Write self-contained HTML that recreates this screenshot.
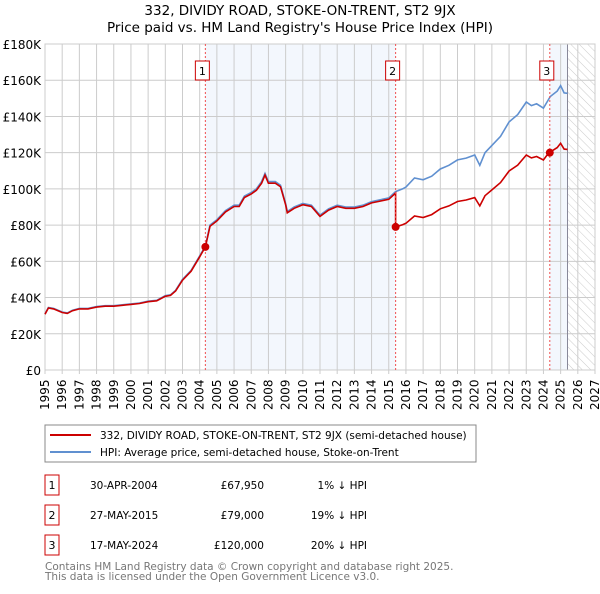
<!DOCTYPE html>
<html><head><meta charset="utf-8"><style>
body{margin:0;background:#fff;font-family:"DejaVu Sans","Liberation Sans",sans-serif;}
svg text{font-family:"DejaVu Sans","Liberation Sans",sans-serif;}
</style></head><body>
<svg id="c" width="600" height="590" xmlns="http://www.w3.org/2000/svg">
<defs><pattern id="hatch" width="6" height="6" patternUnits="userSpaceOnUse" patternTransform="rotate(-45)"><line x1="0" y1="0" x2="0" y2="6" stroke="#ccc" stroke-width="1"/></pattern></defs>
<text x="300" y="15" text-anchor="middle" font-size="13.5">332, DIVIDY ROAD, STOKE-ON-TRENT, ST2 9JX</text>
<text x="300" y="32" text-anchor="middle" font-size="13.5">Price paid vs. HM Land Registry's House Price Index (HPI)</text>
<g id="plot"></g>
<rect x="45" y="425" width="431" height="37" fill="#fff" stroke="#888"/>
<line x1="50" y1="435" x2="91" y2="435" stroke="#cc0000" stroke-width="2"/>
<text x="100" y="439" font-size="10.5">332, DIVIDY ROAD, STOKE-ON-TRENT, ST2 9JX (semi-detached house)</text>
<line x1="50" y1="452" x2="91" y2="452" stroke="#6090d0" stroke-width="2"/>
<text x="100" y="456" font-size="10.5">HPI: Average price, semi-detached house, Stoke-on-Trent</text>
<g id="tbl"></g>
<text x="45" y="570" font-size="10.5" fill="#777">Contains HM Land Registry data © Crown copyright and database right 2025.</text>
<text x="45" y="580" font-size="10.5" fill="#777">This data is licensed under the Open Government Licence v3.0.</text>
</svg>
<script>
const hpiYears=[1995,1995.2,1995.5,1996,1996.3,1996.6,1997,1997.5,1998,1998.5,1999,1999.5,2000,2000.5,2001,2001.5,2002,2002.3,2002.6,2003,2003.5,2004,2004.33,2004.6,2005,2005.5,2006,2006.3,2006.6,2007,2007.3,2007.6,2007.8,2008,2008.4,2008.7,2009,2009.1,2009.5,2010,2010.5,2011,2011.5,2012,2012.5,2013,2013.5,2014,2014.5,2015,2015.4,2015.8,2016,2016.5,2017,2017.5,2018,2018.5,2019,2019.5,2020,2020.3,2020.6,2021,2021.5,2022,2022.5,2023,2023.3,2023.6,2024,2024.4,2024.8,2025,2025.2,2025.4];
const hpiValues=[31,34.5,34,32,31.5,33,34,34,35,35.5,35.5,36,36.5,37,38,38.5,41,41.5,44,50,55,63,68.5,80,83,88,91,91,96,98,100,104,108.5,104,104,102,92,87.5,90,92,91,85.5,89,91,90,90,91,93,94,95,98.5,100,101,106,105,107,111,113,116,117,118.7,113,120,124,129,137,141,148,146,147,144.6,151,154,157,153,152.8];
const saleYears=[2004.33,2015.4,2024.37];
const salePrices=[67950,79000,120000];
const saleLabels=["1","2","3"];
const saleDates=["30-APR-2004","27-MAY-2015","17-MAY-2024"];
const salePriceText=["£67,950","£79,000","£120,000"];
const saleDiffText=["1% ↓ HPI","19% ↓ HPI","20% ↓ HPI"];
const yTicks=[0,20,40,60,80,100,120,140,160,180];
const xTicks=[];for(let y=1995;y<=2027;y++)xTicks.push(y);
const X0=45,X1=595,Y0=370,Y1=44,dataEnd=2025.4;
const xs=v=>X0+(v-1995)*(X1-X0)/32;
const ys=v=>Y0-v*(Y0-Y1)/180;
const NS="http://www.w3.org/2000/svg";
const g=document.getElementById('plot');
function el(t,a,p){const e=document.createElementNS(NS,t);for(const k in a)e.setAttribute(k,a[k]);(p||g).appendChild(e);return e;}
function hpiAt(t){for(let i=1;i<hpiYears.length;i++){if(t<=hpiYears[i]){const f=(t-hpiYears[i-1])/(hpiYears[i]-hpiYears[i-1]);return hpiValues[i-1]+f*(hpiValues[i]-hpiValues[i-1]);}}return hpiValues[hpiValues.length-1];}
let r=el('rect',{x:xs(saleYears[0]),y:Y1,width:xs(saleYears[1])-xs(saleYears[0]),height:Y0-Y1,fill:'#eef3fc',opacity:0.7});

r=el('rect',{x:xs(saleYears[2]),y:Y1,width:xs(dataEnd)-xs(saleYears[2]),height:Y0-Y1,fill:'#eef3fc',opacity:0.7});

r=el('rect',{x:xs(dataEnd),y:Y1,width:X1-xs(dataEnd),height:Y0-Y1,fill:'url(#hatch)'});

yTicks.forEach(v=>{const l=el('line',{x1:X0,x2:X1,y1:ys(v),y2:ys(v),stroke:'#ccc'});

const t=el('text',{x:X0-4,y:ys(v)+5,'text-anchor':'end','font-size':12});t.textContent=v===0?'£0':'£'+v+'K';
});
xTicks.forEach(v=>{const l=el('line',{x1:xs(v),x2:xs(v),y1:Y1,y2:Y0+4,stroke:'#ccc'});

const t=el('text',{x:0,y:0,'font-size':12,transform:`translate(${xs(v)+4},${Y0+40}) rotate(-90)`});t.textContent=v;
});
const dl=el('line',{x1:xs(dataEnd),x2:xs(dataEnd),y1:Y1,y2:Y0,stroke:'#889'});

const fr=el('rect',{x:X0,y:Y1,width:X1-X0,height:Y0-Y1,fill:'none',stroke:'#ccc'});

let d='';hpiYears.forEach((t,i)=>{d+=(i?'L':'M')+xs(t).toFixed(1)+','+ys(hpiValues[i]).toFixed(1);});
const hp=el('path',{d:d,fill:'none',stroke:'#6090d0','stroke-width':1.6});

function propAt(t){let k=-1;for(let i=0;i<saleYears.length;i++)if(t>=saleYears[i])k=i;
if(k<0)return hpiAt(t)*(salePrices[0]/1000)/hpiAt(saleYears[0]);return hpiAt(t)*(salePrices[k]/1000)/hpiAt(saleYears[k]);}
const pts=[];hpiYears.forEach(t=>pts.push(t));saleYears.forEach(t=>{pts.push(t-0.001);pts.push(t);});pts.sort((a,b)=>a-b);
d='';pts.forEach((t,i)=>{const v=(saleYears.includes(t+0.001))?propAt(t-0.0001):propAt(t);d+=(i?'L':'M')+xs(t).toFixed(1)+','+ys(v).toFixed(1);});
const pp=el('path',{d:d,fill:'none',stroke:'#cc0000','stroke-width':1.6});

saleYears.forEach((t,i)=>{const vl=el('line',{x1:xs(t),x2:xs(t),y1:Y1,y2:Y0,stroke:'#f05050','stroke-dasharray':'2,2'});

const c=el('circle',{cx:xs(t),cy:ys(salePrices[i]/1000),r:4,fill:'#cc0000'});

const b=el('rect',{x:xs(t)-10,y:61,width:14,height:19,fill:'#fff',stroke:'#cc0000'});

const bt=el('text',{x:xs(t)-3,y:75,'text-anchor':'middle','font-size':11});bt.textContent=saleLabels[i];
});
const tb=document.getElementById('tbl');
saleYears.forEach((t,i)=>{const y0=475+i*30;
const b=el('rect',{x:45,y:y0,width:14,height:20,fill:'#fff',stroke:'#cc0000'},tb);

const bt=el('text',{x:52,y:y0+14,'text-anchor':'middle','font-size':11},tb);bt.textContent=saleLabels[i];

const a=el('text',{x:90,y:y0+14,'font-size':10.5},tb);a.textContent=saleDates[i];

const p=el('text',{x:264,y:y0+14,'font-size':10.5,'text-anchor':'end'},tb);p.textContent=salePriceText[i];

const h=el('text',{x:367,y:y0+14,'font-size':10.5,'text-anchor':'end'},tb);h.textContent=saleDiffText[i];
});
</script>
</body></html>
